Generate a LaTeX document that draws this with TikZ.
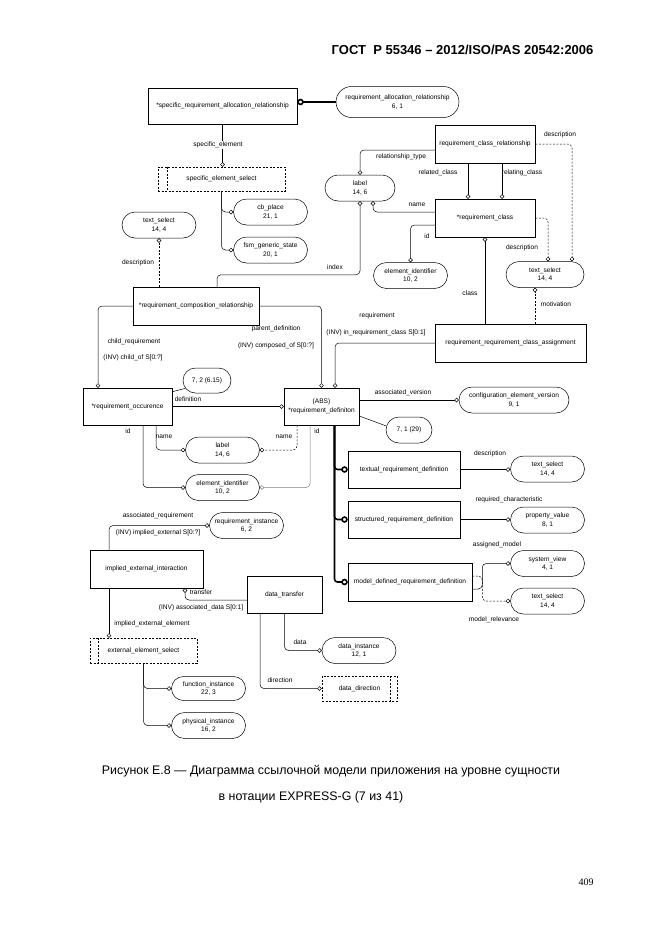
\documentclass[tikz,border=0pt]{standalone}
\usepackage{fontspec}
\setmainfont{Liberation Sans}
\newfontfamily\pagefont{Liberation Serif}
\usetikzlibrary{shapes.misc,arrows.meta,positioning,calc}

\begin{document}
\begin{tikzpicture}[x=1pt,y=-1pt,
    ent/.style={rectangle, draw, line width=0.5pt, inner sep=1pt, align=center, font=\fontsize{6.6}{8.5}\selectfont},
    defn/.style={rounded rectangle, draw, line width=0.5pt, inner sep=1pt, align=center, font=\fontsize{6.6}{8.5}\selectfont, minimum width=76pt, minimum height=26pt},
    sel/.style={rectangle, draw, dash pattern=on 2pt off 1.5pt, line width=0.5pt, inner sep=1pt, font=\fontsize{6.6}{8.5}\selectfont},
    rel/.style={line width=0.5pt, rounded corners=4pt, -{Circle[open,length=4.4pt,width=4.4pt]}},
    opt/.style={rel, dash pattern=on 2pt off 1.5pt},
    sub/.style={line width=1.6pt, rounded corners=3pt, -{Circle[open,length=6.5pt,width=6.5pt]}},
    lbl/.style={inner sep=0.5pt, font=\fontsize{6.6}{8}\selectfont}
]
    \useasboundingbox (0,0) rectangle (662,935);

    \node[anchor=east, font=\bfseries\fontsize{13}{15}\selectfont] (head) at (597,50) {ГОСТ\ \ Р 55346 – 2012/ISO/PAS 20542:2006};

    % entities and types
    \node[ent, minimum width=149pt, minimum height=36pt] (sral) at (222.5,106) {*specific\_requirement\_allocation\_relationship};
    \node[defn, minimum width=125pt, minimum height=31pt] (rar) at (397.5,102) {requirement\_allocation\_relationship\\6, 1};
    \node[sel, minimum width=127pt, minimum height=24pt] (ses) at (221.5,179) {specific\_element\_select};
    \node[defn] (cbp) at (270.5,212) {cb\_place\\21, 1};
    \node[defn] (fsm) at (270.5,250) {fsm\_generic\_state\\20, 1};
    \node[defn, minimum width=72pt] (lbl1) at (360,188) {label\\14, 6};
    \node[ent, minimum width=100pt, minimum height=38pt] (rcr) at (485,144) {requirement\_class\_relationship};
    \node[ent, minimum width=100pt, minimum height=38pt] (rc) at (485,218) {*requirement\_class};
    \node[defn] (ts1) at (159,225) {text\_select\\14, 4};
    \node[defn] (eid1) at (410.5,275.5) {element\_identifier\\10, 2};
    \node[defn, minimum width=80pt] (ts2) at (545,274.5) {text\_select\\14, 4};
    \node[ent, minimum width=126pt, minimum height=38pt] (rcomp) at (196,306) {*requirement\_composition\_relationship};
    \node[ent, minimum width=151pt, minimum height=38pt] (rrca) at (510.5,343) {requirement\_requirement\_class\_assignment};
    \node[ent, minimum width=89pt, minimum height=37pt] (rocc) at (127.5,406.5) {*requirement\_occurence};
    \node[ent, minimum width=75pt, minimum height=37pt] (rdef) at (321.5,406.5) {(ABS)\\*requirement\_definiton};
    \node[defn, minimum width=50pt, minimum height=25pt] (r72) at (207,380.5) {7, 2 (6.15)};
    \node[defn, minimum width=112pt] (cev) at (514,400) {configuration\_element\_version\\9, 1};
    \node[defn, minimum width=48pt] (r71) at (409,430) {7, 1 (29)};
    \node[defn] (lbl2) at (222.5,450) {label\\14, 6};
    \node[defn] (eid2) at (222.5,487.5) {element\_identifier\\10, 2};
    \node[ent, minimum width=112pt, minimum height=37pt] (trd) at (404,469.5) {textual\_requirement\_definition};
    \node[ent, minimum width=112pt, minimum height=37pt] (srd) at (404,519.5) {structured\_requirement\_definition};
    \node[ent, minimum width=124pt, minimum height=38pt] (mdrd) at (410,582) {model\_defined\_requirement\_definition};
    \node[defn] (ts3) at (547.5,469) {text\_select\\14, 4};
    \node[defn] (pv) at (547.5,520) {property\_value\\8, 1};
    \node[defn] (sv) at (547.5,563.5) {system\_view\\4, 1};
    \node[defn] (ts4) at (547.5,601) {text\_select\\14, 4};
    \node[defn] (rinst) at (246.5,525.5) {requirement\_instance\\6, 2};
    \node[ent, minimum width=113pt, minimum height=38pt] (iei) at (146.5,569) {implied\_external\_interaction};
    \node[ent, minimum width=75pt, minimum height=37pt] (dt) at (284.5,594.5) {data\_transfer};
    \node[sel, minimum width=107pt, minimum height=25pt] (ees) at (143.5,650.5) {external\_element\_select};
    \node[defn] (dinst) at (359,650.5) {data\_instance\\12, 1};
    \node[sel, minimum width=75pt, minimum height=25pt] (ddir) at (359.5,688.5) {data\_direction};
    \node[defn, minimum height=24pt] (funi) at (208.5,688.5) {function\_instance\\22, 3};
    \node[defn] (physi) at (208.5,725.5) {physical\_instance\\16, 2};

    % double bars of select and defined types
    \draw[dash pattern=on 2pt off 1.5pt, line width=0.5pt] ([xshift=9pt]ses.north west) -- ([xshift=9pt]ses.south west);
    \draw[dash pattern=on 2pt off 1.5pt, line width=0.5pt] ([xshift=8pt]ees.north west) -- ([xshift=8pt]ees.south west);
    \draw[dash pattern=on 2pt off 1.5pt, line width=0.5pt] ([xshift=-7pt]ddir.north east) -- ([xshift=-7pt]ddir.south east);

    % top part
    \draw[sub] (rar.west) -- (rar.west -| sral.east);
    \draw[rel] (sral.south) -- (sral.south |- ses.north);
    \node[lbl, fill=white] (l1) at (218,145) {specific\_element};
    \draw[rel] (ses.south) |- (cbp.west);
    \draw[rel] (ses.south) |- (fsm.west);

    \draw[rel] ([yshift=-6pt]rcr.west) -| (lbl1.north);
    \node[lbl] (l2) at (401,157) {relationship\_type};
    \draw[rel] ([xshift=-17pt]rcr.south) -- ([xshift=-17pt]rc.north);
    \draw[rel] ([xshift=17pt]rcr.south) -- ([xshift=17pt]rc.north);
    \node[lbl] (l3) at (438,173) {related\_class};
    \node[lbl] (l4) at (522,173) {relating\_class};
    \draw[opt] (rcr.east) -| ([xshift=27pt]ts2.north);
    \node[lbl] (l5) at (560,135) {description};
    \draw[rel] ([yshift=6pt]rc.west) -| ([xshift=13pt]lbl1.south);
    \node[lbl] (l6) at (417,205) {name};
    \draw[rel] ([xshift=21pt]rcomp.north) -- ++(0,-12) -| (lbl1.south);
    \node[lbl] (l7) at (335,267) {index};
    \draw[rel] ([yshift=-7pt]rc.west) -| (eid1.north);
    \node[lbl] (l8) at (427,236) {id};
    \draw[rel] (rrca.north -| rc.south) -- (rc.south);
    \node[lbl] (l9) at (470,293) {class};
    \draw[opt] (rc.east) -| ([xshift=3pt]ts2.north);
    \node[lbl] (l10) at (522,248) {description};
    \draw[opt] ([xshift=24.5pt]rrca.north) -- ([xshift=-10pt]ts2.south);
    \node[lbl] (l11) at (556,304) {motivation};

    % composition
    \draw[opt] (rcomp.north -| ts1.south) -- (ts1.south);
    \node[lbl] (l12) at (138,263) {description};
    \draw[rel] (rcomp.west) -| ([xshift=-29.5pt]rocc.north);
    \node[lbl] (l13) at (134,342) {child\_requirement};
    \node[lbl] (l14) at (133,358) {(INV) child\_of S[0:?]};
    \draw[rel] (rcomp.east) -| (rdef.north);
    \node[lbl] (l15) at (276,329) {parent\_definition};
    \node[lbl] (l16) at (276,346) {(INV) composed\_of S[0:?]};
    \draw[rel] (rrca.west) -| ([xshift=13.5pt]rdef.north);
    \node[lbl] (l17) at (377,316) {requirement};
    \node[lbl] (l18) at (376,333) {(INV) in\_requirement\_class S[0:1]};

    % occurence and definition
    \draw[rel] (rocc.east) -- (rdef.west);
    \node[lbl] (l19) at (188,399) {definition};
    \draw[line width=0.5pt] ([yshift=-4pt]rocc.north east) -- (r72.200);
    \draw[rel] ([xshift=28.5pt]rocc.south) |- (lbl2.west);
    \node[lbl] (l20) at (164,437) {name};
    \draw[rel] ([xshift=15.5pt]rocc.south) |- (eid2.west);
    \node[lbl] (l21) at (128,431) {id};
    \draw[opt] ([xshift=-24.5pt]rdef.south) |- (lbl2.east);
    \node[lbl] (l22) at (284,437) {name};
    \draw[rel, gray] ([xshift=-11.5pt]rdef.south) |- (eid2.east);
    \node[lbl] (l23) at (317,431) {id};
    \draw[rel] (rdef.east |- cev.west) -- (cev.west);
    \node[lbl] (l24) at (403,393) {associated\_version};
    \draw[line width=0.5pt] ([yshift=-9.5pt]rdef.east) -- (r71.170);

    % subtypes
    \draw[sub] ([xshift=13pt]rdef.south) |- (trd.west);
    \draw[sub] ([xshift=13pt]rdef.south) |- (srd.west);
    \draw[sub] ([xshift=13pt]rdef.south) |- (mdrd.west);
    \draw[rel] (trd.east) -- (trd.east -| ts3.west);
    \node[lbl] (l25) at (490,454) {description};
    \draw[rel] (srd.east) -- (srd.east -| pv.west);
    \node[lbl] (l26) at (509,500) {required\_characteristic};
    \draw[rel] ([yshift=-7pt]mdrd.east) -- ++(10,0) |- (sv.west);
    \node[lbl] (l27) at (497,545) {assigned\_model};
    \draw[opt] ([yshift=6pt]mdrd.east) -- ++(10,0) |- (ts4.west);
    \node[lbl] (l28) at (494,620) {model\_relevance};

    % external interaction
    \draw[rel] ([xshift=-37.5pt]iei.north) |- (rinst.west);
    \node[lbl] (l29) at (158,516) {associated\_requirement};
    \node[lbl] (l30) at (158,533) {(INV) implied\_external S[0:?]};
    \draw[rel] ([yshift=-5.5pt]dt.west) -| ([xshift=38.5pt]iei.south);
    \node[lbl] (l31) at (201,592) {transfer};
    \node[lbl] (l32) at (201,608) {(INV) associated\_data S[0:1]};
    \draw[rel] ([xshift=-37.5pt]iei.south) -- ([xshift=-34.5pt]ees.north);
    \node[lbl] (l33) at (152,624) {implied\_external\_element};
    \draw[rel] (ees.south) |- (funi.west);
    \draw[rel] (ees.south) |- (physi.west);
    \draw[rel] (dt.south) |- (dinst.west);
    \node[lbl] (l34) at (300,642) {data};
    \draw[rel] ([xshift=-24.5pt]dt.south) |- (ddir.west);
    \node[lbl] (l35) at (280,680) {direction};

    % caption
    \node[font=\fontsize{12.4}{14}\selectfont] (cap1) at (331,771) {Рисунок Е.8 — Диаграмма ссылочной модели приложения на уровне сущности};
    \node[font=\fontsize{12.4}{14}\selectfont] (cap2) at (311,797) {в нотации EXPRESS-G (7 из 41)};
    \node[font=\pagefont\fontsize{10}{12}\selectfont] (pnum) at (586,882) {409};
\end{tikzpicture}
\end{document}
